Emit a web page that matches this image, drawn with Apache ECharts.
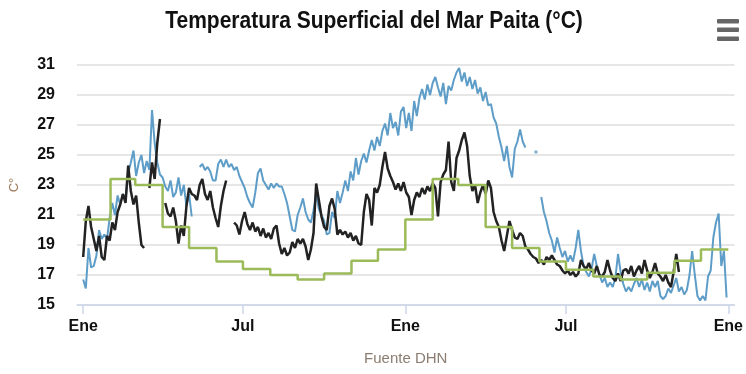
<!DOCTYPE html>
<html>
<head>
<meta charset="utf-8">
<script src="https://cdn.jsdelivr.net/npm/echarts@6/dist/echarts.min.js"></script>
<style>
  html, body { margin: 0; padding: 0; background: #ffffff; }
  #chart { width: 746px; height: 374px; }
</style>
</head>
<body>
<div id="chart"></div>
<script>
// Daily series sampled every 3 days, starting on 1 January (day 0).
const STEP_DAYS = 3;

// Sea surface temperature, earlier record (°C)
const serieAzul = [
  16.7,16.1,18.8,17.5,17.6,18.3,20.0,19.4,19.7,19.4,
  20.8,21.8,21.0,22.3,21.7,22.4,22.0,23.8,24.5,25.3,
  23.6,24.5,25.0,23.8,24.6,24.0,28.0,25.8,24.5,23.7,
  23.5,22.9,22.6,23.3,22.2,22.5,23.5,22.3,23.0,21.6,
  22.4,20.9,null,null,24.2,24.4,24.0,24.2,23.9,23.3,
  23.3,24.4,24.7,24.2,24.7,24.2,24.4,24.0,24.2,23.6,
  23.2,22.8,22.2,21.8,21.5,22.5,23.8,24.1,23.3,23.0,
  22.7,23.1,22.8,23.1,22.9,22.9,22.4,21.8,20.9,20.0,
  19.9,21.0,21.5,22.1,21.2,20.7,20.5,21.3,22.4,21.4,
  21.0,20.6,19.7,19.8,21.2,20.8,22.6,21.8,22.5,23.3,
  22.6,23.9,23.3,24.8,23.7,24.6,25.1,24.5,25.3,26.0,
  25.3,26.2,25.6,26.6,27.1,26.3,27.8,26.8,27.2,26.3,
  27.9,28.2,26.8,27.8,26.6,28.6,27.6,28.8,29.4,28.7,
  29.7,29.0,29.8,30.2,29.5,28.9,29.8,28.4,29.6,29.3,
  30.0,30.5,30.8,29.9,30.5,29.6,30.2,29.4,30.0,29.1,
  29.5,28.6,29.2,28.3,28.4,27.5,27.1,26.2,25.5,24.6,
  25.6,24.2,23.5,25.4,25.9,26.7,25.9,25.5,null,null,
  null,25.2,null,22.2,21.2,20.6,19.8,19.3,18.5,19.5,
  18.8,18.2,18.6,17.9,18.3,17.9,18.8,20.0,18.6,17.6,
  17.2,16.9,17.4,18.4,17.6,17.0,16.5,16.8,16.2,16.5,
  16.2,16.8,18.4,17.2,16.4,15.9,16.2,15.9,16.4,16.8,
  16.2,16.7,16.0,16.5,15.9,16.6,16.2,16.6,15.6,15.4,
  15.6,16.1,15.8,16.3,16.8,15.9,16.2,15.7,16.0,17.0,
  18.6,17.0,15.6,15.3,15.6,15.3,16.9,17.3,19.5,20.5,
  21.1,17.6,18.6,15.5
];

// Sea surface temperature, recent record (°C)
const serieNegra = [
  18.2,20.6,21.6,20.2,19.4,18.6,19.6,18.2,18.0,19.6,
  19.3,20.5,20.0,21.2,21.7,22.4,21.8,24.3,22.6,21.7,
  22.3,20.5,19.0,18.8,null,22.8,24.5,23.4,25.8,27.4,
  null,21.8,21.1,20.9,21.5,20.6,19.1,20.3,19.6,21.6,
  22.8,22.4,22.3,22.0,23.0,23.4,22.4,22.0,22.6,21.5,
  20.8,20.2,21.6,22.6,23.3,null,null,20.5,20.3,19.7,
  20.6,21.2,20.4,20.0,20.5,19.9,20.2,19.6,20.1,19.5,
  19.8,19.4,20.1,20.3,19.1,18.4,18.8,18.3,18.5,19.2,
  18.8,19.4,19.1,19.4,18.9,18.0,18.7,19.8,23.1,22.0,
  20.9,20.2,20.0,21.6,22.1,21.4,19.7,20.0,19.7,19.9,
  19.5,19.8,19.3,19.6,19.1,19.0,21.2,22.4,22.0,20.3,
  22.8,22.5,23.0,24.2,25.2,24.1,23.6,23.2,22.7,23.1,
  22.6,23.2,22.5,22.2,21.0,22.0,22.5,22.2,22.8,22.4,
  22.9,22.6,23.1,22.8,20.9,23.2,23.7,24.0,25.9,23.2,
  22.6,24.8,25.3,26.0,26.5,25.6,23.6,22.6,23.0,21.8,
  22.5,23.0,22.4,23.3,22.8,21.2,20.6,20.2,19.3,18.6,
  19.6,20.6,20.0,19.5,19.4,19.8,19.6,18.9,18.7,18.4,
  18.2,18.1,17.8,18.0,17.7,18.2,18.0,18.3,18.0,17.7,
  17.6,17.3,17.1,17.3,17.0,17.2,16.9,17.1,18.0,17.6,
  17.4,17.8,17.3,17.1,17.6,17.0,16.9,17.2,18.0,17.3,
  16.8,16.6,17.1,16.6,17.3,17.4,17.1,17.6,16.9,17.3,
  17.6,17.1,18.0,17.3,16.8,17.2,17.8,17.1,16.9,16.6,
  17.0,16.5,16.2,17.2,18.4,17.2
];

// Monthly normal: first day of each month and its value (°C)
const inicioMes = [0,31,59,90,120,151,181,212,243,273,304,334,
                   365,396,425,456,486,517,547,578,609,639,670,700,731];
const normalMensual = [20.7,23.4,23.0,20.2,18.8,17.9,17.4,17.0,16.7,17.1,17.95,18.7,
                       20.7,23.4,23.0,20.2,18.8,17.9,17.35,16.9,16.7,17.15,17.95,18.7];

// Axis ticks
const diasEtiqueta = [0, 181, 365, 547, 731];
const textoEtiqueta = ['Ene', 'Jul', 'Ene', 'Jul', 'Ene'];
const ticksY = [15, 17, 19, 21, 23, 25, 27, 29, 31];

const toPairs = arr => arr.map((v, i) => [i * STEP_DAYS, v]);
const azulPares = toPairs(serieAzul);
const negraPares = toPairs(serieNegra);
// single readings with no neighbours are shown as dots
const azulAislados = azulPares.filter((p, i) =>
  p[1] != null &&
  (i === 0 || serieAzul[i - 1] == null) &&
  (i === serieAzul.length - 1 || serieAzul[i + 1] == null));
const normalPares = inicioMes.slice(0, normalMensual.length).map((d, i) => [d, normalMensual[i]]);
normalPares.push([inicioMes[inicioMes.length - 1], normalMensual[normalMensual.length - 1]]);

const FONT_C = "'Liberation Sans', Arial, sans-serif";
const FONT_N = "'Liberation Sans', 'Noto Sans', sans-serif";

const chart = echarts.init(document.getElementById('chart'), null, { renderer: 'canvas' });
chart.setOption({
  animation: false,
  backgroundColor: '#ffffff',
  graphic: [
    {
      // chart title, drawn narrowed
      type: 'text',
      x: 374, y: 21,
      scaleX: 0.875,
      style: {
        text: 'Temperatura Superficial del Mar Paita (°C)',
        align: 'center', verticalAlign: 'middle',
        font: "bold 24px 'Liberation Sans', Arial, sans-serif",
        fill: '#111111'
      }
    },
    { type: 'rect', shape: { x: 717, y: 19, width: 22, height: 4.5, r: 1 }, style: { fill: '#666666' } },
    { type: 'rect', shape: { x: 717, y: 27.5, width: 22, height: 4.5, r: 1 }, style: { fill: '#666666' } },
    { type: 'rect', shape: { x: 717, y: 36.5, width: 22, height: 4.5, r: 1 }, style: { fill: '#666666' } }
  ],
  grid: { left: 75, right: 3, top: 65, bottom: 69, containLabel: false },
  xAxis: {
    type: 'value',
    min: -7,
    max: 738,
    name: 'Fuente DHN',
    nameLocation: 'middle',
    nameGap: 46,
    nameTextStyle: { fontFamily: FONT_N, fontSize: 15, color: '#8a7c70' },
    axisLine: { show: true, lineStyle: { color: '#ccd6eb', width: 1.5 } },
    axisTick: { show: true, customValues: diasEtiqueta, length: 9, lineStyle: { color: '#ccd6eb', width: 1.5 } },
    axisLabel: {
      customValues: diasEtiqueta,
      margin: 14,
      fontFamily: FONT_C, fontWeight: 'bold', fontSize: 16, color: '#111111',
      formatter: v => {
        const k = diasEtiqueta.indexOf(v);
        return k >= 0 ? textoEtiqueta[k] : '';
      }
    },
    splitLine: { show: false }
  },
  yAxis: {
    type: 'value',
    min: ticksY[0],
    max: ticksY[ticksY.length - 1],
    interval: 2,
    name: 'C°',
    nameLocation: 'middle',
    nameRotate: 90,
    nameGap: 56,
    nameTextStyle: { fontFamily: FONT_N, fontSize: 13, color: '#9a7452' },
    axisLine: { show: false },
    axisTick: { show: false },
    axisLabel: {
      margin: 22,
      fontFamily: FONT_C, fontWeight: 'bold', fontSize: 16, color: '#111111'
    },
    splitLine: { show: true, lineStyle: { color: '#dedede', width: 1.5 } }
  },
  series: [
    {
      name: 'Azul',
      type: 'line',
      data: azulPares,
      showSymbol: false,
      connectNulls: false,
      lineStyle: { color: '#5e9dc8', width: 2 },
      itemStyle: { color: '#5e9dc8' },
      z: 2
    },
    {
      name: 'Azul puntos',
      type: 'scatter',
      data: azulAislados,
      symbolSize: 3.5,
      itemStyle: { color: '#5e9dc8' },
      z: 2
    },
    {
      name: 'Negra',
      type: 'line',
      data: negraPares,
      showSymbol: false,
      connectNulls: false,
      lineStyle: { color: '#222222', width: 2.5 },
      itemStyle: { color: '#222222' },
      z: 3
    },
    {
      name: 'Normal',
      type: 'line',
      data: normalPares,
      step: 'end',
      showSymbol: false,
      lineStyle: { color: '#9bbb59', width: 2.5 },
      itemStyle: { color: '#9bbb59' },
      z: 4
    }
  ]
});
</script>
</body>
</html>
